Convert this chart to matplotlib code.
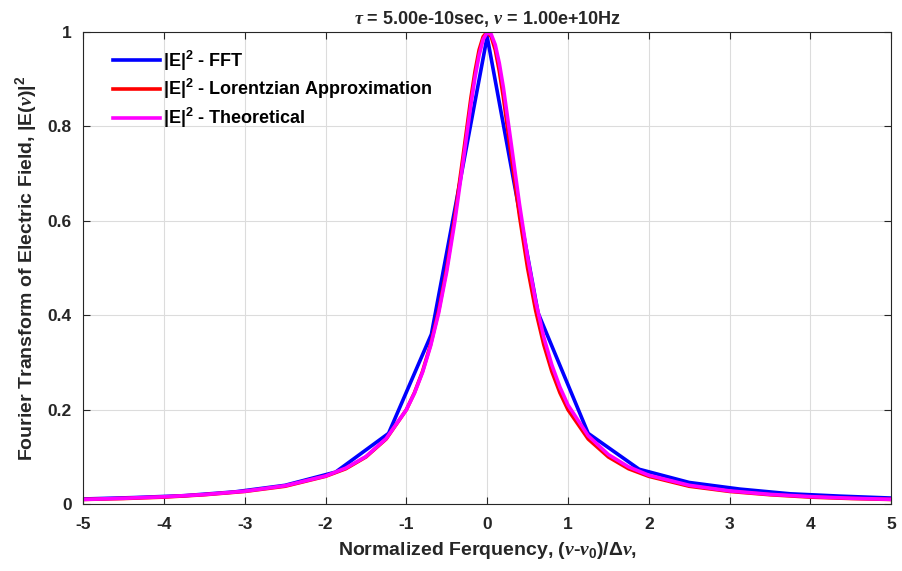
import matplotlib
matplotlib.use('Agg')
from matplotlib import pyplot as plt

# normalized frequency grid for the smooth curves
x_curve = [-5, -4.5, -4, -3.5, -3, -2.5, -2, -1.75, -1.5, -1.25, -1, -0.9, -0.8, -0.7, -0.6,
           -0.5, -0.4, -0.3, -0.2, -0.15, -0.1, -0.05, 0, 0.05, 0.1, 0.15, 0.2, 0.3, 0.4, 0.5,
           0.6, 0.7, 0.8, 0.9, 1, 1.25, 1.5, 1.75, 2, 2.5, 3, 3.5, 4, 4.5, 5]

lorentz = [0.010, 0.012, 0.015, 0.020, 0.027, 0.038, 0.059, 0.075, 0.100, 0.138, 0.200, 0.236,
           0.281, 0.338, 0.410, 0.500, 0.610, 0.735, 0.862, 0.917, 0.962, 0.990, 1.000, 0.990,
           0.962, 0.917, 0.862, 0.735, 0.610, 0.500, 0.410, 0.338, 0.281, 0.236, 0.200, 0.138,
           0.100, 0.075, 0.059, 0.038, 0.027, 0.020, 0.015, 0.012, 0.010]

theory = [0.0101, 0.0125, 0.0157, 0.0204, 0.0275, 0.0391, 0.0597, 0.0764, 0.101, 0.139, 0.200,
          0.235, 0.279, 0.335, 0.405, 0.493, 0.599, 0.722, 0.848, 0.904, 0.951, 0.984, 0.999,
          0.995, 0.973, 0.934, 0.883, 0.760, 0.635, 0.523, 0.430, 0.354, 0.295, 0.248, 0.210,
          0.145, 0.105, 0.079, 0.0613, 0.040, 0.0281, 0.0208, 0.0160, 0.0126, 0.0103]

# FFT samples
x_fft = [-5, -4.375, -3.75, -3.125, -2.5, -1.875, -1.22, -0.69, 0, 0.63, 1.25, 1.88, 2.5,
         3.125, 3.75, 4.375, 5]
y_fft = [0.011, 0.014, 0.018, 0.026, 0.040, 0.068, 0.150, 0.360, 0.99, 0.405, 0.150, 0.074,
         0.046, 0.032, 0.022, 0.017, 0.013]

plt.rcParams['font.family'] = ['Liberation Sans', 'DejaVu Sans']
plt.rcParams['font.weight'] = 'bold'
plt.rcParams['axes.unicode_minus'] = False
plt.rcParams['mathtext.fontset'] = 'custom'
plt.rcParams['mathtext.rm'] = 'Liberation Sans:bold'
plt.rcParams['mathtext.bf'] = 'Liberation Sans:bold'
plt.rcParams['mathtext.it'] = 'Liberation Serif:italic'
plt.rcParams['mathtext.default'] = 'rm'

fig = plt.figure(figsize=(9.03, 5.71), dpi=100)
ax = fig.add_axes([0.092, 0.117, 0.895, 0.827])

ax.plot(x_fft, y_fft, color='#0000ff', lw=2.6, label=r'|E|$^2$ - FFT')
ax.plot(x_curve, lorentz, color='#ff0000', lw=2.6, label=r'|E|$^2$ - Lorentzian Approximation')
ax.plot(x_curve, theory, color='#ff00ff', lw=2.6, label=r'|E|$^2$ - Theoretical')

ax.set_xlim(-5, 5)
ax.set_ylim(0, 1)
ax.set_xticks(range(-5, 6))
ax.set_yticks([0, 0.2, 0.4, 0.6, 0.8, 1])
ax.set_yticklabels(['0', '0.2', '0.4', '0.6', '0.8', '1'])
ax.tick_params(direction='in', labelsize=12.5, length=5, width=0.8, colors='#262626',
               top=True, right=True)
ax.tick_params(axis='x', pad=9)
ax.tick_params(axis='y', pad=8)
for lab in ax.get_xticklabels() + ax.get_yticklabels():
    lab.set_fontweight('bold')
for s in ax.spines.values():
    s.set_color('#262626')
    s.set_linewidth(0.8)
ax.grid(True, color='#dcdcdc', lw=0.8)
ax.set_axisbelow(True)

ax.set_title(r'$\mathit{\tau}$ = 5.00e-10sec, $\mathit{\nu}$ = 1.00e+10Hz',
             fontsize=13, fontweight='bold', color='#262626', pad=6)
ax.set_xlabel(r'Normalized Ferquency, ($\mathit{\nu}$-$\mathit{\nu}_0$)/$\Delta\mathit{\nu}$,',
              fontsize=14, fontweight='bold', color='#262626', labelpad=6)
ax.set_ylabel(r'Fourier Transform of Electric Field, |E($\mathit{\nu}$)|$^2$',
              fontsize=14, fontweight='bold', color='#262626', labelpad=6)

leg = ax.legend(loc='upper left', frameon=False, fontsize=13, handlelength=2.6,
                handletextpad=0.2, labelspacing=0.25, borderaxespad=0.0,
                bbox_to_anchor=(0.028, 0.98))
for t in leg.get_texts():
    t.set_fontweight('bold')

fig.savefig('out.png', dpi=100)
